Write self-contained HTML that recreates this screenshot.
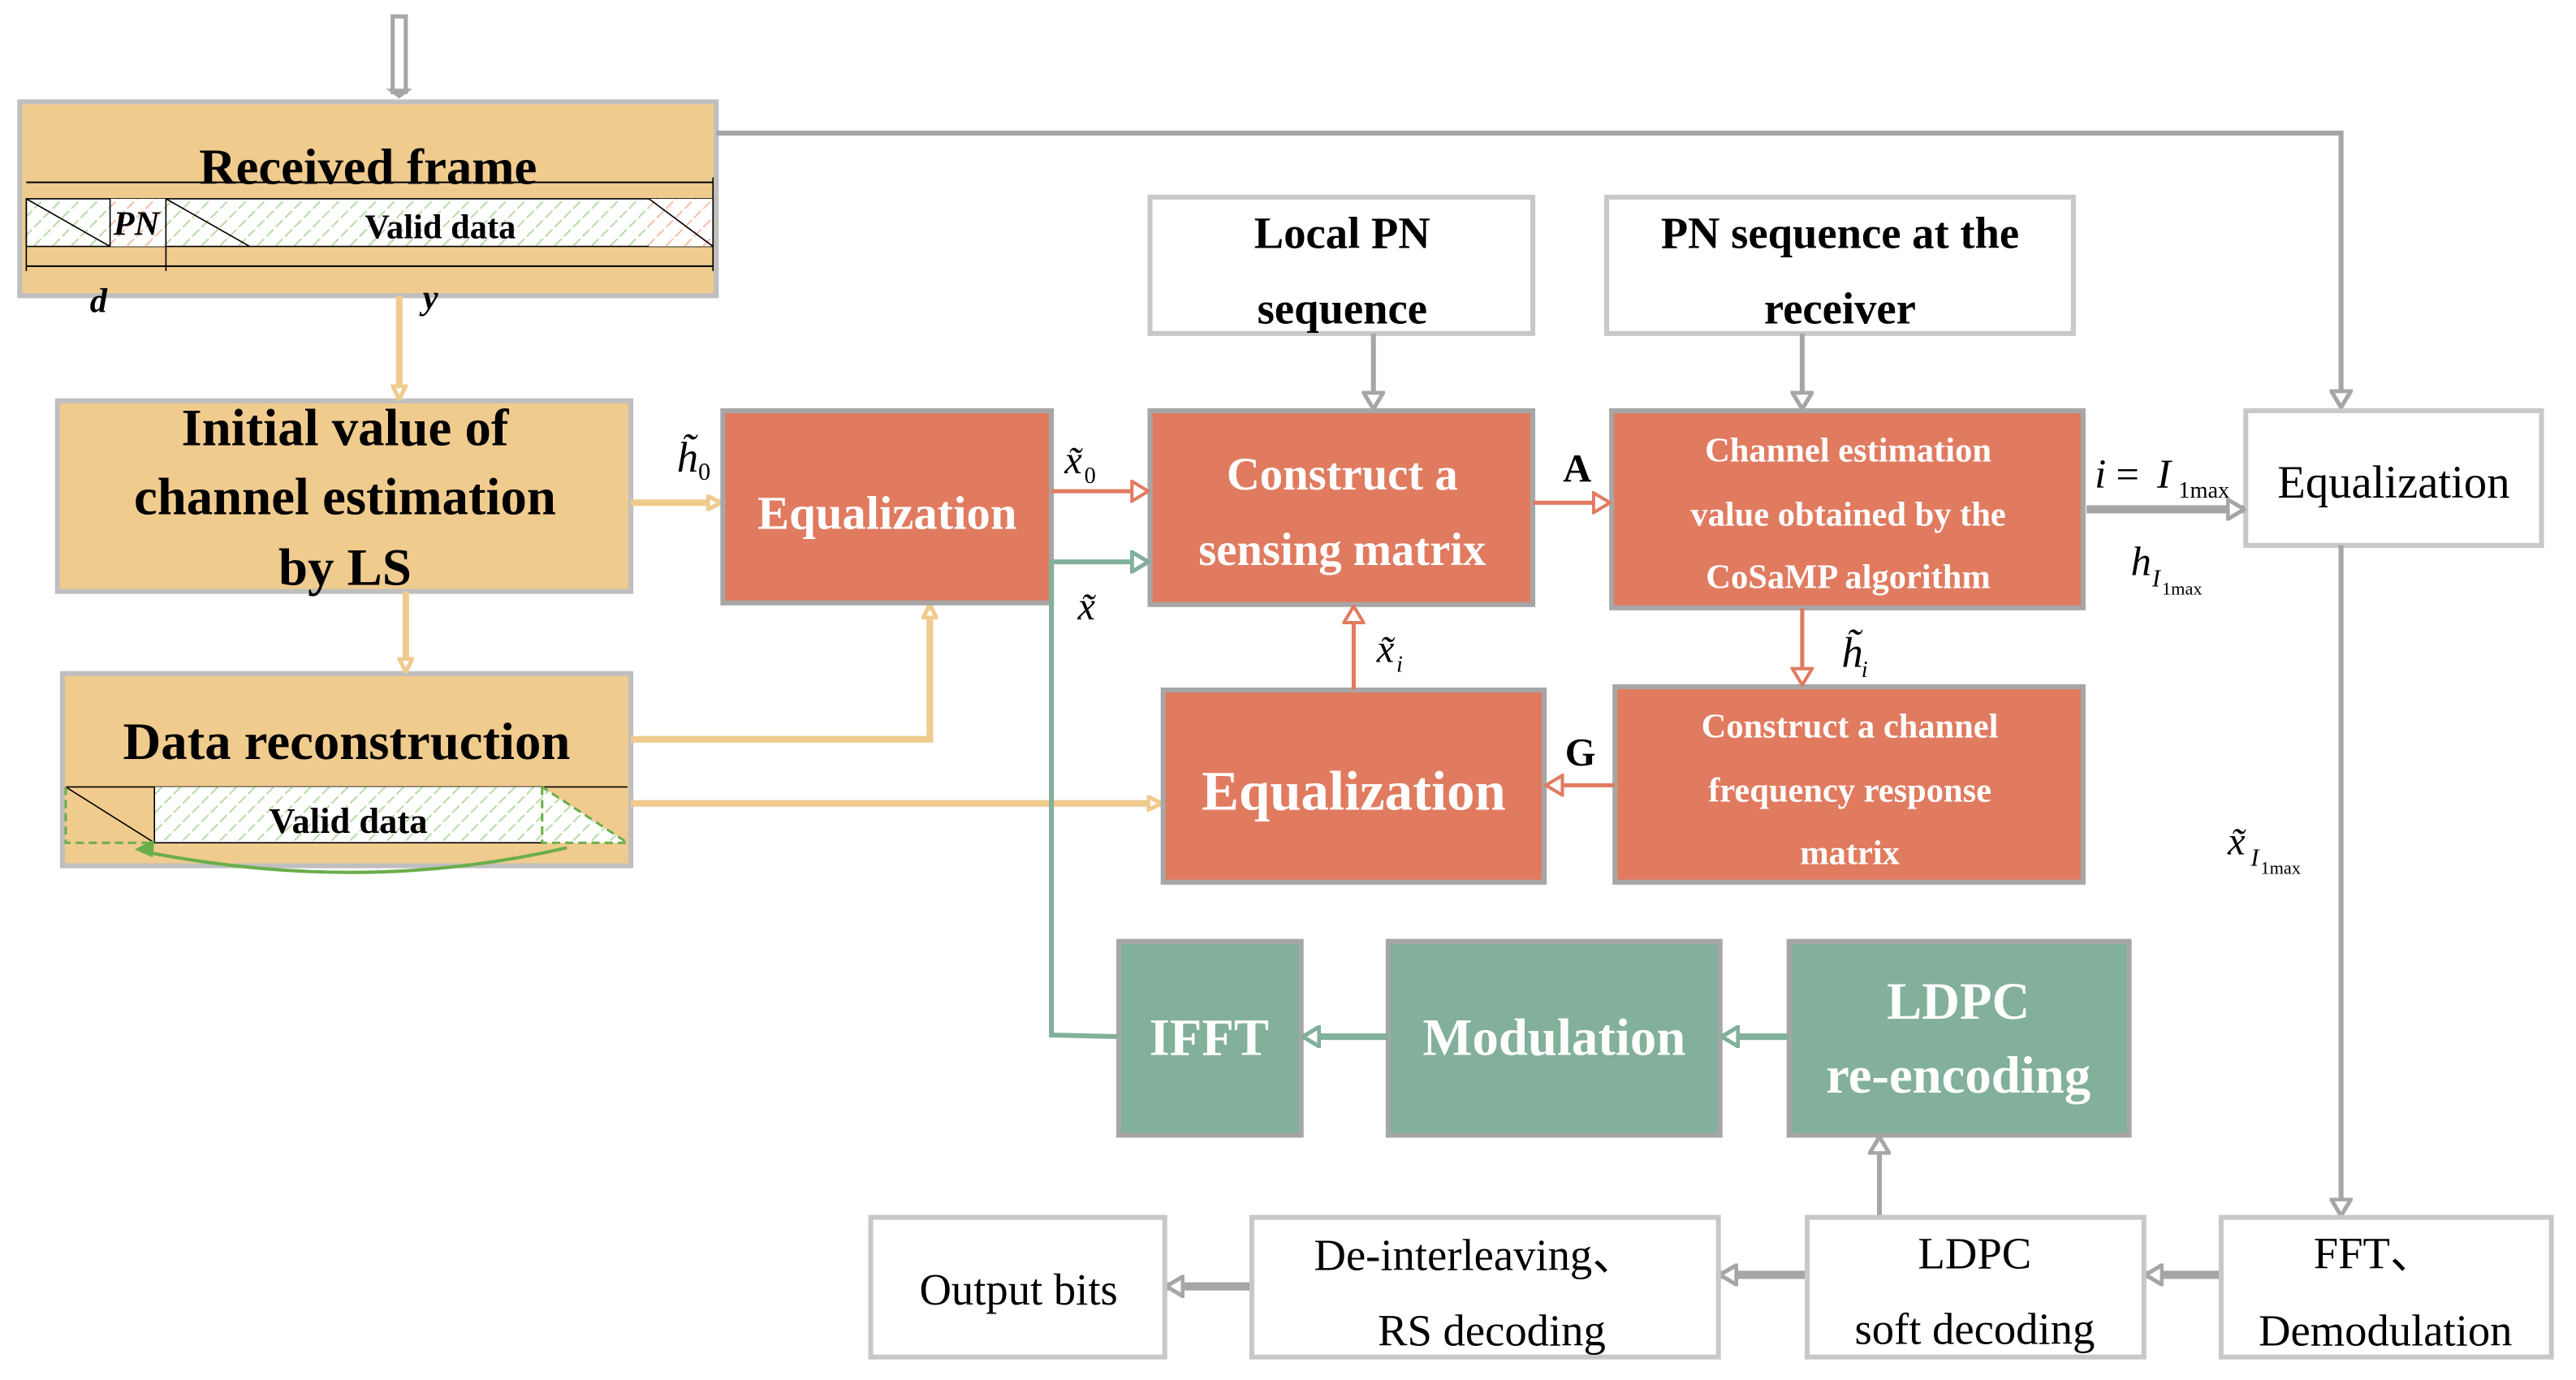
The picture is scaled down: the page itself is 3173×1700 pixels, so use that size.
<!DOCTYPE html>
<html><head><meta charset="utf-8"><style>
html,body{margin:0;padding:0;background:#fff;}
svg{display:block;}
text{font-family:"Liberation Serif","Times New Roman","DejaVu Serif",serif;}
.b{font-weight:bold;}
</style></head><body>
<svg width="3173" height="1700" viewBox="0 0 1568 840" preserveAspectRatio="none" font-family="Liberation Serif, serif" xmlns="http://www.w3.org/2000/svg">
<defs>
<pattern id="hg" width="8" height="8" patternUnits="userSpaceOnUse" patternTransform="rotate(45)">
<rect width="8" height="8" fill="#fff"/><line x1="0" y1="0" x2="0" y2="8" stroke="#b8dca8" stroke-width="2" stroke-dasharray="3,2"/></pattern>
<pattern id="hr" width="8" height="8" patternUnits="userSpaceOnUse" patternTransform="rotate(45)">
<rect width="8" height="8" fill="#fff"/><line x1="0" y1="0" x2="0" y2="8" stroke="#f3c0a8" stroke-width="2" stroke-dasharray="3,2"/></pattern>
<marker id="ay" markerWidth="10" markerHeight="10" refX="9" refY="5" orient="auto" markerUnits="userSpaceOnUse"><path d="M1,1 L9,5 L1,9 z" fill="#fff" stroke="#F0CB8E" stroke-width="2.5"/></marker>
<marker id="ag" markerWidth="12" markerHeight="14" refX="11" refY="7" orient="auto" markerUnits="userSpaceOnUse"><path d="M1,1 L11,7 L1,13 z" fill="#fff" stroke="#A6A6A6" stroke-width="2.5"/></marker>
<marker id="ar" markerWidth="12" markerHeight="14" refX="11" refY="7" orient="auto" markerUnits="userSpaceOnUse"><path d="M1,1 L11,7 L1,13 z" fill="#fff" stroke="#E07B60" stroke-width="2"/></marker>
<marker id="an" markerWidth="12" markerHeight="14" refX="11" refY="7" orient="auto" markerUnits="userSpaceOnUse"><path d="M1,1 L11,7 L1,13 z" fill="#fff" stroke="#82B09A" stroke-width="2.5"/></marker>
</defs>

<rect x="239" y="10" width="8" height="46" fill="#fff" stroke="#A6A6A6" stroke-width="2.5"/>
<path d="M235,54 L251,54 L243,60 z" fill="#A6A6A6"/>

<rect x="12" y="62" width="424" height="118" fill="#F0CB8E" stroke="#BFBFBF" stroke-width="3"/>
<text x="224" y="112" text-anchor="middle" class="b" font-size="31">Received frame</text>
<line x1="16" y1="111" x2="434" y2="111" stroke="#000" stroke-width="1"/>
<rect x="16" y="121" width="418" height="29" fill="url(#hg)" stroke="#000" stroke-width="0.8"/>
<rect x="67" y="121" width="34" height="29" fill="url(#hr)"/>
<rect x="395" y="121" width="39" height="29" fill="url(#hr)"/>
<line x1="16" y1="121" x2="67" y2="150" stroke="#000" stroke-width="0.8"/>
<line x1="67" y1="121" x2="67" y2="150" stroke="#000" stroke-width="0.8"/>
<line x1="101" y1="121" x2="101" y2="165" stroke="#000" stroke-width="0.8"/>
<line x1="101" y1="121" x2="152" y2="150" stroke="#000" stroke-width="0.8"/>
<line x1="395" y1="121" x2="434" y2="150" stroke="#000" stroke-width="0.8"/>
<line x1="16" y1="121" x2="16" y2="165" stroke="#000" stroke-width="0.8"/>
<line x1="434" y1="108" x2="434" y2="165" stroke="#000" stroke-width="0.8"/>
<line x1="16" y1="162" x2="434" y2="162" stroke="#000" stroke-width="1"/>
<text x="83" y="143" text-anchor="middle" class="b" font-style="italic" font-size="21">PN</text>
<text x="268" y="145" text-anchor="middle" class="b" font-size="21">Valid data</text>
<text x="60" y="190" text-anchor="middle" class="b" font-style="italic" font-size="21">d</text>
<text x="262" y="188" text-anchor="middle" class="b" font-style="italic" font-size="21">y</text>

<polyline points="436,81 1425,81 1425,248" fill="none" stroke="#A6A6A6" stroke-width="3" marker-end="url(#ag)"/>

<rect x="35" y="244" width="349" height="116" fill="#F0CB8E" stroke="#BFBFBF" stroke-width="3"/>
<text x="210" y="271" text-anchor="middle" class="b" font-size="32">Initial value of</text>
<text x="210" y="313" text-anchor="middle" class="b" font-size="32">channel estimation</text>
<text x="210" y="356" text-anchor="middle" class="b" font-size="32">by LS</text>

<rect x="38" y="410" width="346" height="117" fill="#F0CB8E" stroke="#BFBFBF" stroke-width="3"/>
<text x="211" y="462" text-anchor="middle" class="b" font-size="32">Data reconstruction</text>
<line x1="40" y1="479" x2="382" y2="479" stroke="#000" stroke-width="0.8"/>
<rect x="94" y="479" width="236" height="34" fill="url(#hg)"/>
<path d="M330,479 L382,513 L330,513 z" fill="url(#hg)"/>
<line x1="40" y1="479" x2="94" y2="513" stroke="#000" stroke-width="0.8"/>
<line x1="94" y1="479" x2="94" y2="513" stroke="#000" stroke-width="0.8"/>
<line x1="94" y1="513" x2="330" y2="513" stroke="#000" stroke-width="0.8"/>
<path d="M40,479 L40,513 L94,513" fill="none" stroke="#6aae4a" stroke-width="1.5" stroke-dasharray="5,3"/>
<path d="M330,479 L330,513 L382,513 L330,479" fill="none" stroke="#6aae4a" stroke-width="1.5" stroke-dasharray="5,3"/>
<text x="212" y="507" text-anchor="middle" class="b" font-size="22">Valid data</text>
<path d="M345,516 Q220,545 86,518" fill="none" stroke="#6aae4a" stroke-width="2"/>
<path d="M82,517 L94,511 L93,522 z" fill="#6aae4a"/>

<line x1="243" y1="180" x2="243" y2="243" stroke="#F0CB8E" stroke-width="4" marker-end="url(#ay)"/>
<line x1="247" y1="360" x2="247" y2="409" stroke="#F0CB8E" stroke-width="4" marker-end="url(#ay)"/>
<line x1="384" y1="306" x2="439" y2="306" stroke="#F0CB8E" stroke-width="4" marker-end="url(#ay)"/>
<polyline points="384,450 566,450 566,368" fill="none" stroke="#F0CB8E" stroke-width="4" marker-end="url(#ay)"/>
<line x1="384" y1="489" x2="707" y2="489" stroke="#F0CB8E" stroke-width="4" marker-end="url(#ay)"/>
<text x="412" y="287" font-style="italic" font-size="26">h̃</text><text x="425" y="292" font-size="15">0</text>

<rect x="440" y="250" width="200" height="117" fill="#E07B60" stroke="#A6A6A6" stroke-width="3"/>
<text x="540" y="322" text-anchor="middle" class="b" font-size="29" fill="#fff">Equalization</text>
<rect x="700" y="250" width="233" height="118" fill="#E07B60" stroke="#A6A6A6" stroke-width="3"/>
<text x="817" y="298" text-anchor="middle" class="b" font-size="28" fill="#fff">Construct a</text>
<text x="817" y="344" text-anchor="middle" class="b" font-size="28" fill="#fff">sensing matrix</text>
<rect x="981" y="250" width="287" height="120" fill="#E07B60" stroke="#A6A6A6" stroke-width="3"/>
<text x="1125" y="281" text-anchor="middle" class="b" font-size="21" fill="#fff">Channel estimation</text>
<text x="1125" y="320" text-anchor="middle" class="b" font-size="21" fill="#fff">value obtained by the</text>
<text x="1125" y="358" text-anchor="middle" class="b" font-size="21" fill="#fff">CoSaMP algorithm</text>
<rect x="708" y="420" width="232" height="117" fill="#E07B60" stroke="#A6A6A6" stroke-width="3"/>
<text x="824" y="493" text-anchor="middle" class="b" font-size="34" fill="#fff">Equalization</text>
<rect x="983" y="418" width="285" height="119" fill="#E07B60" stroke="#A6A6A6" stroke-width="3"/>
<text x="1126" y="449" text-anchor="middle" class="b" font-size="21" fill="#fff">Construct a channel</text>
<text x="1126" y="488" text-anchor="middle" class="b" font-size="21" fill="#fff">frequency response</text>
<text x="1126" y="526" text-anchor="middle" class="b" font-size="21" fill="#fff">matrix</text>

<rect x="700" y="120" width="233" height="83" fill="#fff" stroke="#C8C8C8" stroke-width="3"/>
<text x="817" y="151" text-anchor="middle" class="b" font-size="27">Local PN</text>
<text x="817" y="197" text-anchor="middle" class="b" font-size="27">sequence</text>
<rect x="978" y="120" width="284" height="83" fill="#fff" stroke="#C8C8C8" stroke-width="3"/>
<text x="1120" y="151" text-anchor="middle" class="b" font-size="27">PN sequence at the</text>
<text x="1120" y="197" text-anchor="middle" class="b" font-size="27">receiver</text>
<rect x="1367" y="250" width="180" height="82" fill="#fff" stroke="#C8C8C8" stroke-width="3"/>
<text x="1457" y="303" text-anchor="middle" font-size="28">Equalization</text>

<line x1="640" y1="299" x2="699" y2="299" stroke="#E07B60" stroke-width="2.5" marker-end="url(#ar)"/>
<text x="648" y="288" font-style="italic" font-size="24">x̃</text><text x="660" y="294" font-size="14">0</text>
<line x1="933" y1="306" x2="980" y2="306" stroke="#E07B60" stroke-width="2.5" marker-end="url(#ar)"/>
<text x="960" y="293" text-anchor="middle" class="b" font-size="24">A</text>
<line x1="1097" y1="370" x2="1097" y2="417" stroke="#E07B60" stroke-width="2.5" marker-end="url(#ar)"/>
<text x="1121" y="406" font-style="italic" font-size="26">h̃</text><text x="1133" y="412" font-style="italic" font-size="14">i</text>
<line x1="983" y1="478" x2="941" y2="478" stroke="#E07B60" stroke-width="2.5" marker-end="url(#ar)"/>
<text x="962" y="466" text-anchor="middle" class="b" font-size="24">G</text>
<line x1="824" y1="420" x2="824" y2="369" stroke="#E07B60" stroke-width="2.5" marker-end="url(#ar)"/>
<text x="838" y="403" font-style="italic" font-size="24">x̃</text><text x="850" y="409" font-style="italic" font-size="14">i</text>

<rect x="681" y="573" width="111" height="118" fill="#82B09A" stroke="#A6A6A6" stroke-width="3"/>
<text x="736" y="642" text-anchor="middle" class="b" font-size="32" fill="#fff">IFFT</text>
<rect x="845" y="573" width="202" height="118" fill="#82B09A" stroke="#A6A6A6" stroke-width="3"/>
<text x="946" y="642" text-anchor="middle" class="b" font-size="32" fill="#fff">Modulation</text>
<rect x="1089" y="573" width="207" height="118" fill="#82B09A" stroke="#A6A6A6" stroke-width="3"/>
<text x="1192" y="620" text-anchor="middle" class="b" font-size="32" fill="#fff">LDPC</text>
<text x="1192" y="665" text-anchor="middle" class="b" font-size="32" fill="#fff">re-encoding</text>

<polyline points="681,631 640,630 640,342 699,342" fill="none" stroke="#82B09A" stroke-width="3" marker-end="url(#an)"/>
<text x="656" y="377" font-style="italic" font-size="24">x̃</text>
<line x1="845" y1="631" x2="793" y2="631" stroke="#82B09A" stroke-width="4" marker-end="url(#an)"/>
<line x1="1089" y1="631" x2="1048" y2="631" stroke="#82B09A" stroke-width="4" marker-end="url(#an)"/>

<line x1="836" y1="203" x2="836" y2="249" stroke="#A6A6A6" stroke-width="3" marker-end="url(#ag)"/>
<line x1="1097" y1="203" x2="1097" y2="249" stroke="#A6A6A6" stroke-width="3" marker-end="url(#ag)"/>
<line x1="1270" y1="310" x2="1366" y2="310" stroke="#A6A6A6" stroke-width="5" marker-end="url(#ag)"/>
<text x="1275" y="297" font-style="italic" font-size="25">i</text><text x="1288" y="297" font-size="25">=</text><text x="1313" y="297" font-style="italic" font-size="25">I</text><text x="1326" y="303" font-size="14">1max</text>
<text x="1297" y="350" font-style="italic" font-size="25">h</text><text x="1310" y="357" font-style="italic" font-size="15">I</text><text x="1316" y="362" font-size="11">1max</text>
<line x1="1425" y1="332" x2="1425" y2="740" stroke="#A6A6A6" stroke-width="3" marker-end="url(#ag)"/>
<text x="1356" y="520" font-style="italic" font-size="24">x̃</text><text x="1370" y="527" font-style="italic" font-size="15">I</text><text x="1376" y="532" font-size="11">1max</text>
<line x1="1352" y1="776" x2="1306" y2="776" stroke="#A6A6A6" stroke-width="5" marker-end="url(#ag)"/>
<line x1="1100" y1="776" x2="1047" y2="776" stroke="#A6A6A6" stroke-width="5" marker-end="url(#ag)"/>
<line x1="762" y1="783" x2="710" y2="783" stroke="#A6A6A6" stroke-width="5" marker-end="url(#ag)"/>
<line x1="1144" y1="741" x2="1144" y2="692" stroke="#A6A6A6" stroke-width="3" marker-end="url(#ag)"/>

<rect x="530" y="741" width="179" height="85" fill="#fff" stroke="#C8C8C8" stroke-width="3"/>
<text x="620" y="794" text-anchor="middle" font-size="27">Output bits</text>
<rect x="762" y="741" width="284" height="85" fill="#fff" stroke="#C8C8C8" stroke-width="3"/>
<text x="898" y="773" text-anchor="middle" font-size="27">De-interleaving、</text>
<text x="908" y="819" text-anchor="middle" font-size="27">RS decoding</text>
<rect x="1100" y="741" width="205" height="85" fill="#fff" stroke="#C8C8C8" stroke-width="3"/>
<text x="1202" y="772" text-anchor="middle" font-size="27">LDPC</text>
<text x="1202" y="818" text-anchor="middle" font-size="27">soft decoding</text>
<rect x="1352" y="741" width="201" height="85" fill="#fff" stroke="#C8C8C8" stroke-width="3"/>
<text x="1445" y="772" text-anchor="middle" font-size="27">FFT、</text>
<text x="1452" y="819" text-anchor="middle" font-size="27">Demodulation</text>
</svg>
</body></html>
